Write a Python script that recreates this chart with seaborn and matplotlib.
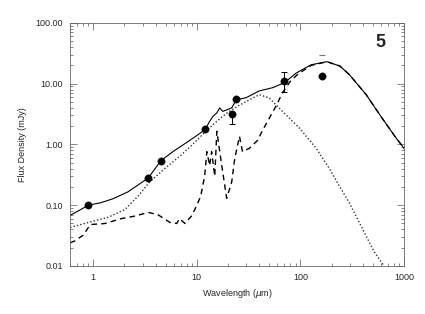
import numpy as np
import matplotlib
matplotlib.use("Agg")
import matplotlib.pyplot as plt
import matplotlib.ticker as mticker
import seaborn as sns

# total model (solid)
solid_wl = [0.6, 0.77, 0.9, 1.19, 1.56, 2.17, 3.4, 4.5, 6, 8, 10, 12, 13.3, 14.3,
            15.6, 16.6, 17.8, 19.4, 21.7, 24, 30, 40, 54, 70, 91, 127, 180, 240,
            297, 430, 613, 840, 1000]
solid_fx = [0.068, 0.086, 0.10, 0.11, 0.128, 0.166, 0.28, 0.54, 0.78, 1.08, 1.4, 1.75,
            2.4, 2.9, 3.3, 4.0, 3.5, 3.7, 4.0, 5.4, 5.9, 7.6, 8.6, 10.4, 15.0,
            20.5, 23.0, 19.5, 14.0, 6.6, 2.7, 1.26, 0.86]

# stellar / hot component (dotted)
dot_wl = [0.6, 0.9, 1.39, 2.03, 2.7, 3.5, 4.9, 7, 9, 12, 16, 20, 25, 32, 40, 50, 67,
          98, 142, 190, 236, 295, 385, 515, 640]
dot_fx = [0.043, 0.052, 0.063, 0.085, 0.14, 0.24, 0.4, 0.66, 0.98, 1.6, 2.5, 3.4,
          4.3, 5.4, 6.6, 5.8, 3.5, 1.85, 0.86, 0.4, 0.21, 0.11, 0.045, 0.017, 0.01]

# dust + PAH component (dashed)
dash_wl = [0.6, 0.67, 0.8, 0.94, 1.3, 1.86, 2.5, 3.4, 4.2, 5.0, 5.5, 6.4, 6.8, 7.7,
           9.0, 10.0, 10.9, 11.9, 12.5, 13.3, 13.9, 14.9, 15.6, 17.4, 19.4, 21.7,
           23.2, 25.8, 27.6, 32, 38.6, 43, 50, 59, 67, 80, 95, 127, 180, 240, 297,
           430, 613, 840, 1000]
dash_fx = [0.024, 0.026, 0.032, 0.048, 0.05, 0.06, 0.066, 0.076, 0.07, 0.058, 0.052,
           0.05, 0.06, 0.05, 0.068, 0.1, 0.14, 0.3, 0.76, 0.45, 0.76, 0.3, 1.65,
           0.45, 0.13, 0.24, 0.58, 1.36, 0.76, 0.86, 1.17, 1.7, 2.7, 4.5, 7.1,
           11.0, 14.5, 20.0, 23.0, 19.5, 14.0, 6.6, 2.7, 1.26, 0.86]

# photometry
pt_wl = [0.9, 3.4, 4.5, 12, 22, 24, 70, 160]
pt_fx = [0.10, 0.28, 0.54, 1.78, 3.16, 5.6, 11.2, 13.6]

# error bars (22 and 70 micron)
err_wl = [22, 70]
err_fx = [3.16, 11.2]
err_lo = [0.95, 4.0]
err_hi = [0.0, 4.1]

# upper bar at 160 micron
lim_wl = [160]
lim_fx = [30]

sns.set_style("ticks")
plt.rcParams["font.family"] = ["Liberation Sans", "DejaVu Sans"]

fig = plt.figure(figsize=(4.25, 3.14), dpi=100)
ax = fig.add_axes([0.165, 0.153, 0.786, 0.774])

sns.lineplot(x=solid_wl, y=solid_fx, ax=ax, color="black", linewidth=0.8, sort=False)
sns.lineplot(x=dot_wl, y=dot_fx, ax=ax, color="#333333", linewidth=1.0,
             linestyle=(0, (1, 1.5)), sort=False)
sns.lineplot(x=dash_wl, y=dash_fx, ax=ax, color="black", linewidth=1.0,
             linestyle=(0, (4, 3)), sort=False)

ax.errorbar(err_wl, err_fx, yerr=[err_lo, err_hi], fmt="none", ecolor="black",
            elinewidth=0.7, capsize=2.5, capthick=0.7)
sns.scatterplot(x=pt_wl, y=pt_fx, ax=ax, color="black", s=28, edgecolor="black",
                linewidth=0.3, zorder=5)
sns.scatterplot(x=lim_wl, y=lim_fx, ax=ax, color="#777777", marker="_", s=20,
                linewidth=0.8)

ax.set_xscale("log")
ax.set_yscale("log")
ax.set_xlim(0.6, 1000)
ax.set_ylim(0.01, 100)

ax.xaxis.set_major_formatter(mticker.FuncFormatter(lambda v, p: f"{v:g}"))
ax.yaxis.set_major_formatter(mticker.FormatStrFormatter("%.2f"))
ax.xaxis.set_minor_formatter(mticker.NullFormatter())
ax.yaxis.set_minor_formatter(mticker.NullFormatter())

ax.tick_params(which="both", direction="in", top=True, right=True,
               labelsize=6.5, width=0.5, color="#555555")
ax.tick_params(which="major", length=5, pad=5)
ax.tick_params(which="minor", length=2.5)
for sp in ax.spines.values():
    sp.set_linewidth(0.6)
    sp.set_color("#666666")

ax.set_xlabel("Wavelength ($\\mu$m)", fontsize=6.5, labelpad=4)
ax.set_ylabel("Flux Density (mJy)", fontsize=6.5, labelpad=6)
ax.text(0.93, 0.92, "5", transform=ax.transAxes, fontsize=13, fontweight="bold",
        ha="center", va="center")

fig.savefig("out.png", dpi=100)
